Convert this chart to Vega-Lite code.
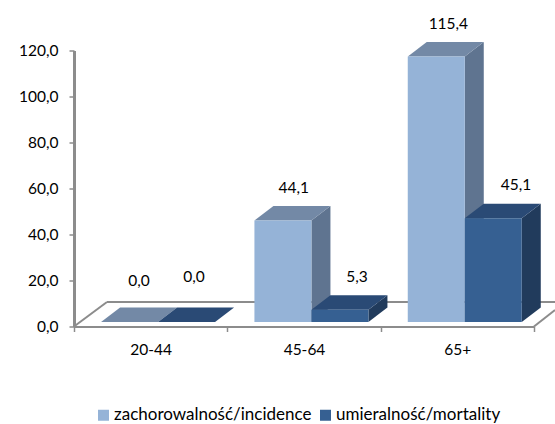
{
"$schema":"https://vega.github.io/schema/vega-lite/v6.json",
"width":460,"height":276,
"autosize":{"type":"none"},
"padding":{"left":74,"top":50.5,"right":21,"bottom":97.5},
"background":"white",
"config":{"view":{"stroke":null},"font":"Lato"},
"datasets":{
"bars":[
{"group":"20-44","series":"zachorowalność/incidence","value":0},
{"group":"20-44","series":"umieralność/mortality","value":0},
{"group":"45-64","series":"zachorowalność/incidence","value":44.1},
{"group":"45-64","series":"umieralność/mortality","value":5.3},
{"group":"65+","series":"zachorowalność/incidence","value":115.4},
{"group":"65+","series":"umieralność/mortality","value":45.1}
],
"floor":[
{"part":"left","xv":0,"yv":0},{"part":"left","xv":0.215,"yv":10.65},
{"part":"back","xv":0.215,"yv":10.65},{"part":"back","xv":3.137,"yv":10.65},
{"part":"right","xv":3,"yv":0},{"part":"right","xv":3.137,"yv":7.2}
]},
"layer":[
{"data":{"name":"floor"},
 "mark":{"type":"line","color":"#8c8c8c","strokeWidth":2,"clip":false},
 "encoding":{
  "x":{"field":"xv","type":"quantitative","scale":{"domain":[0,3],"nice":false},
   "axis":{"title":null,"grid":false,"values":[0,0.5,1,1.5,2,2.5,3],"labelExpr":"datum.value==0.5?'20-44':datum.value==1.5?'45-64':datum.value==2.5?'65+':''","labelOverlap":false,"labelFontSize":15.5,"labelColor":"#000","labelPadding":11,"labelBound":false,"labelFlush":false,"tickSize":5,"tickWidth":1.5,"tickColor":"#8c8c8c","tickOpacity":{"expr":"datum.value%1==0?1:0"},"domainColor":"#8c8c8c","domainWidth":2}},
  "y":{"field":"yv","type":"quantitative","scale":{"domain":[0,120],"nice":false},
   "axis":{"title":null,"grid":false,"values":[0,20,40,60,80,100,120],"labelExpr":"replace(format(datum.value,'.1f'),'.',',')","labelFontSize":15.5,"labelColor":"#000","labelPadding":11,"tickSize":5,"tickWidth":1.5,"tickColor":"#8c8c8c","domainColor":"#8c8c8c","domainWidth":3}},
  "detail":{"field":"part"}}},
{"data":{"name":"bars"},
 "transform":[
  {"calculate":"indexof(['20-44','45-64','65+'],datum.group)+0.1767+(datum.series=='zachorowalność/incidence'?0:0.3717)","as":"xl"},
  {"calculate":"[0,1]","as":"k"},{"flatten":["k"]},
  {"calculate":"datum.xl+0.3717+datum.k*0.124","as":"sx"},
  {"calculate":"datum.value+1.96+datum.k*6.3","as":"st"},
  {"calculate":"1.96+datum.k*6.3","as":"sb"}],
 "mark":{"type":"area","clip":false},
 "encoding":{
  "x":{"field":"sx","type":"quantitative","scale":{"domain":[0,3],"nice":false}},
  "y":{"field":"st","type":"quantitative","scale":{"domain":[0,120],"nice":false},"stack":null},
  "y2":{"field":"sb"},
  "detail":{"field":"group"},
  "color":{"field":"series","type":"nominal","legend":null,"scale":{"domain":["zachorowalność/incidence","umieralność/mortality"],"range":["#5F7490","#213B5C"]}}}},
{"data":{"name":"bars"},
 "transform":[
  {"calculate":"indexof(['20-44','45-64','65+'],datum.group)+0.1767+(datum.series=='zachorowalność/incidence'?0:0.3717)","as":"xl"},
  {"calculate":"[0,1]","as":"k"},{"flatten":["k"]},
  {"calculate":"datum.xl+datum.k*0.124","as":"tl"},
  {"calculate":"datum.xl+0.3717+datum.k*0.124","as":"tr"},
  {"calculate":"datum.value+1.96+datum.k*6.3","as":"ty"}],
 "mark":{"type":"area","orient":"horizontal","clip":false},
 "encoding":{
  "x":{"field":"tl","type":"quantitative","scale":{"domain":[0,3],"nice":false},"stack":null},
  "x2":{"field":"tr"},
  "y":{"field":"ty","type":"quantitative","scale":{"domain":[0,120],"nice":false}},
  "detail":{"field":"group"},
  "color":{"field":"series","type":"nominal","legend":null,"scale":{"domain":["zachorowalność/incidence","umieralność/mortality"],"range":["#7389A6","#2A4A75"]}}}},
{"data":{"name":"bars"},
 "transform":[
  {"calculate":"indexof(['20-44','45-64','65+'],datum.group)+0.1767+(datum.series=='zachorowalność/incidence'?0:0.3717)","as":"xl"},
  {"calculate":"datum.xl+0.3717","as":"xr"}],
 "mark":{"type":"bar","yOffset":-4.5,"y2Offset":-4.5,"clip":false},
 "encoding":{
  "x":{"field":"xl","type":"quantitative","scale":{"domain":[0,3],"nice":false}},
  "x2":{"field":"xr"},
  "y":{"field":"value","type":"quantitative","stack":null,"scale":{"domain":[0,120],"nice":false}},
  "y2":{"datum":0},
  "color":{"field":"series","type":"nominal","title":null,
   "scale":{"domain":["zachorowalność/incidence","umieralność/mortality"],"range":["#95B3D7","#366092"]},
   "legend":{"orient":"none","legendX":21,"legendY":356,"direction":"horizontal","columns":2,"symbolType":"square","symbolSize":121,"symbolStrokeWidth":0,"labelFontSize":17,"labelColor":"#000","labelOffset":2,"columnPadding":5,"labelLimit":300,"padding":0}}}},
{"data":{"name":"bars"},
 "transform":[
  {"calculate":"indexof(['20-44','45-64','65+'],datum.group)+0.1807+(datum.series=='zachorowalność/incidence'?0:0.3717)","as":"xl"},
  {"calculate":"datum.xl+0.1858+0.062+(datum.group=='65+'?(datum.series=='zachorowalność/incidence'?0.013:0.082):datum.group=='45-64'?(datum.series=='zachorowalność/incidence'?0.005:0.045):(datum.series=='zachorowalność/incidence'?-0.005:-0.018))","as":"lx"},
  {"calculate":"datum.value+(datum.value==0?(datum.series=='zachorowalność/incidence'?20:21.5):16.3)","as":"ly"},
  {"calculate":"replace(format(datum.value,'.1f'),'.',',')","as":"label"}],
 "mark":{"type":"text","fontSize":15.5,"color":"#000","clip":false},
 "encoding":{
  "x":{"field":"lx","type":"quantitative","scale":{"domain":[0,3],"nice":false}},
  "y":{"field":"ly","type":"quantitative","scale":{"domain":[0,120],"nice":false}},
  "text":{"field":"label"}}}
],
"resolve":{"scale":{"color":"independent"}}
}
